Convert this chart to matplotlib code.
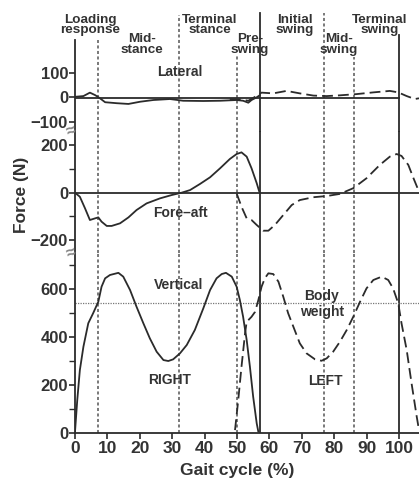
import matplotlib
matplotlib.use("Agg")
import matplotlib.pyplot as plt
import matplotlib.transforms as mtransforms

# ---------------- data ----------------
# Vertical force (N)
vert_right_x = [0, 0.7, 1.5, 2.6, 4.1, 5.6, 7.2, 8.2, 9.3, 10.8, 13.4, 14.9, 17.0, 19.0, 21.1, 23.1,
                25.2, 27.3, 28.8, 30.3, 32.4, 34.5, 37.0, 39.6, 41.7, 43.7, 45.3, 46.6, 48.4, 49.9,
                50.9, 51.9, 53.0, 54.0, 55.0, 56.1, 56.6]
vert_right_y = [4, 137, 262, 360, 458, 500, 548, 611, 646, 660, 669, 653, 597, 527, 458, 395,
                339, 304, 300, 307, 332, 367, 430, 520, 597, 646, 664, 669, 653, 611,
                555, 485, 388, 276, 151, 39, 4]
vert_left_x = [49.4, 50.4, 51.4, 52.5, 53.0, 54.5, 55.6, 56.6, 57.6, 58.6, 59.7, 61.2, 62.8, 64.3,
               65.8, 67.4, 69.4, 71.5, 74.1, 76.1, 77.7, 79.7, 81.8, 83.9, 85.9, 88.0, 90.0, 92.1,
               94.7, 96.7, 98.2, 99.8, 100.8, 102.4, 103.9, 105.5, 106.2]
vert_left_y = [11, 137, 276, 416, 464, 485, 506, 555, 611, 646, 667, 664, 632, 569,
               500, 444, 374, 332, 307, 301, 311, 339, 381, 430, 485, 548, 604, 639,
               653, 639, 604, 541, 458, 346, 207, 67, 11]

# Fore-aft force (N)
fa_right_x = [0, 1.5, 3.1, 4.6, 6.2, 7.2, 8.2, 9.8, 11.3, 13.9, 16.5, 19.0, 22.1, 26.2, 29.8, 32.9,
              35.5, 38.6, 41.7, 44.8, 47.8, 49.9, 51.4, 53.0, 54.5, 56.1, 56.9]
fa_right_y = [0, -17, -66, -115, -108, -104, -122, -140, -140, -129, -104, -73, -45, -24, -10, 0,
              11, 37, 65, 103, 142, 163, 170, 152, 103, 40, 4]
fa_left_x = [49.9, 51.4, 53.0, 54.5, 56.1, 58.1, 59.7, 61.7, 64.3, 66.9, 69.4, 73.6, 77.7, 81.8,
             85.9, 90.0, 94.1, 97.2, 99.3, 100.8, 102.9, 104.5, 106.0]
fa_left_y = [-3, -59, -108, -115, -136, -160, -160, -136, -94, -52, -31, -19, -14, -5,
             19, 61, 117, 152, 163, 155, 117, 61, 11]

# Lateral force (N)
lat_right_x = [0, 2.6, 4.6, 6.2, 7.7, 9.3, 12.9, 16.5, 20.1, 24.2, 29.3, 33.4, 39.6, 44.8, 49.9,
               51.9, 53.5, 54.5, 56.1, 57.0]
lat_right_y = [2, 5, 19, 9, -4, -20, -24, -27, -18, -11, -7, -14, -15, -14, -11,
               -14, -22, -11, 0, 8]
lat_left_x = [47.8, 50.9, 53.5, 55.6, 57.6, 61.2, 65.3, 69.4, 73.6, 77.7, 81.8, 86.9, 92.1, 97.2,
              99.8, 102.4, 104.9, 106.2]
lat_left_y = [-7, -8, -14, 2, 19, 16, 26, 16, 7, 5, 8, 13, 20, 26,
              20, 5, -7, -4]

body_weight = 541

# Gait phase boundaries (% of cycle)
phase_dashed = [7, 32, 50, 77, 86]
phase_solid = [57, 100]

phase_labels = ["Loading\nresponse", "Mid-\nstance", "Terminal\nstance", "Pre-\nswing",
                "Initial\nswing", "Mid-\nswing", "Terminal\nswing"]
phase_label_x = [4.6, 20.6, 41.7, 54.0, 67.9, 81.5, 93.9]
phase_label_row = [0, 1, 0, 1, 0, 1, 0]

# ---------------- style ----------------
W, H = 419, 479
INK = "#2b2b2b"
TXT = "#333333"
FONT = ["Liberation Sans", "DejaVu Sans"]
plt.rcParams["font.family"] = FONT
plt.rcParams["font.weight"] = "bold"

fig = plt.figure(figsize=(W / 100, H / 100), dpi=100)
fig.patch.set_facecolor("white")

def fy(px):
    return 1 - px / H

left = 75 / W
width = 1 - left
XMAX = 106.2

ax_lat = fig.add_axes([left, fy(131), width, (131 - 40) / H])
ax_fa = fig.add_axes([left, fy(253), width, (253 - 131) / H])
ax_v = fig.add_axes([left, fy(432.7), width, (432.7 - 253) / H])

ax_lat.set_ylim(-137, 233)
ax_fa.set_ylim(-254, 260)
ax_v.set_ylim(0, 752)

for ax in (ax_lat, ax_fa, ax_v):
    ax.set_xlim(0, XMAX)
    ax.patch.set_alpha(0)
    for s in ("top", "right", "bottom"):
        ax.spines[s].set_visible(False)
    ax.spines["left"].set_color(INK)
    ax.spines["left"].set_linewidth(1.3)
    ax.tick_params(axis="y", which="major", length=4, width=1.2, color=INK, pad=1,
                   labelsize=12, labelcolor=TXT)
    ax.tick_params(axis="y", which="minor", length=4, width=1.0, color=INK)
    ax.set_xticks([])

ax_v.spines["bottom"].set_visible(True)
ax_v.spines["bottom"].set_color(INK)
ax_v.spines["bottom"].set_linewidth(1.3)
ax_v.set_xticks(list(range(0, 101, 10)))
ax_v.tick_params(axis="x", length=4, width=1.2, color=INK, pad=2, labelsize=12.5, labelcolor=TXT)

ax_lat.set_yticks([-100, 0, 100])
ax_lat.set_yticklabels(["\u2212100", "0", "100"])
ax_fa.set_yticks([-200, 0, 200])
ax_fa.set_yticklabels(["\u2212200", "0", "200"])
ax_fa.set_yticks([-100, 100], minor=True)
ax_v.set_yticks([0, 200, 400, 600])
ax_v.set_yticks([100, 300, 500, 700], minor=True)

for lab in ax_v.get_xticklabels() + ax_v.get_yticklabels() + ax_fa.get_yticklabels() + ax_lat.get_yticklabels():
    lab.set_fontweight("bold")

# phase lines
top_px = {7: 40, 32: 15, 50: 55, 77: 13, 86: 57, 57: 13, 100: 35}
dash_style = dict(color="#555555", lw=1.1, linestyle=(0, (2, 1.6)))
solid_style = dict(color=INK, lw=1.3)
for x in phase_dashed + phase_solid:
    st = dash_style if x in phase_dashed else solid_style
    ax_v.axvline(x, 0, 1, **st)
    ax_fa.axvline(x, 0, 1, **st)
    ymax = (131 - top_px[x]) / (131 - 40)
    ax_lat.axvline(x, 0, ymax, clip_on=False, **st)

# zero / reference lines
ax_lat.plot([0, 100], [-3, -3], color=INK, lw=1.3)
ax_fa.axhline(0, color=INK, lw=1.3)
ax_v.axhline(body_weight, color="#777777", lw=0.9, linestyle=(0, (1, 1)))

# curves
cstyle = dict(color=INK, lw=1.3, solid_capstyle="round", solid_joinstyle="round")
dstyle = dict(color=INK, lw=1.3, linestyle=(0, (6, 2.8)), dash_joinstyle="round")
ax_lat.plot(lat_right_x, lat_right_y, **cstyle)
ax_lat.plot(lat_left_x, lat_left_y, **dstyle)
ax_fa.plot(fa_right_x, fa_right_y, **cstyle)
ax_fa.plot(fa_left_x, fa_left_y, **dstyle)
ax_v.plot(vert_right_x, vert_right_y, **cstyle)
ax_v.plot(vert_left_x, vert_left_y, **dstyle)

# in-panel labels
lbl = dict(fontsize=10, fontweight="bold", color=TXT, ha="center", va="center")
ax_lat.text(32.4, 104, "Lateral", **lbl)
ax_fa.text(32.4, -84, "Fore\u2013aft", **lbl)
ax_v.text(32, 618, "Vertical", **lbl)
ax_v.text(29.2, 220, "RIGHT", **lbl)
ax_v.text(77.2, 217, "LEFT", **lbl)
ax_v.text(76.2, 539, "Body\nweight", linespacing=1.15, **lbl)

# phase labels at top
trans = mtransforms.blended_transform_factory(ax_lat.transData, fig.transFigure)
row_y = [25, 44.5]
for lab, x, r in zip(phase_labels, phase_label_x, phase_label_row):
    ax_lat.text(x, fy(row_y[r]), lab, transform=trans, fontsize=9.7, fontweight="bold",
                color=TXT, ha="center", va="center", linespacing=0.82, clip_on=False)

# axis break marks
for ypx in (131, 253):
    fig.text(71 / W, fy(ypx), "\u2248", fontsize=12, color="#888888", ha="center", va="center",
             rotation=20)

# axis labels
fig.text(21.7 / W, fy(195), "Force (N)", rotation=90, fontsize=12.5, fontweight="bold",
         color=TXT, ha="center", va="center")
fig.text(237 / W, fy(470), "Gait cycle (%)", fontsize=12.5, fontweight="bold",
         color=TXT, ha="center", va="center")

fig.savefig("out.png", dpi=100, facecolor="white")
